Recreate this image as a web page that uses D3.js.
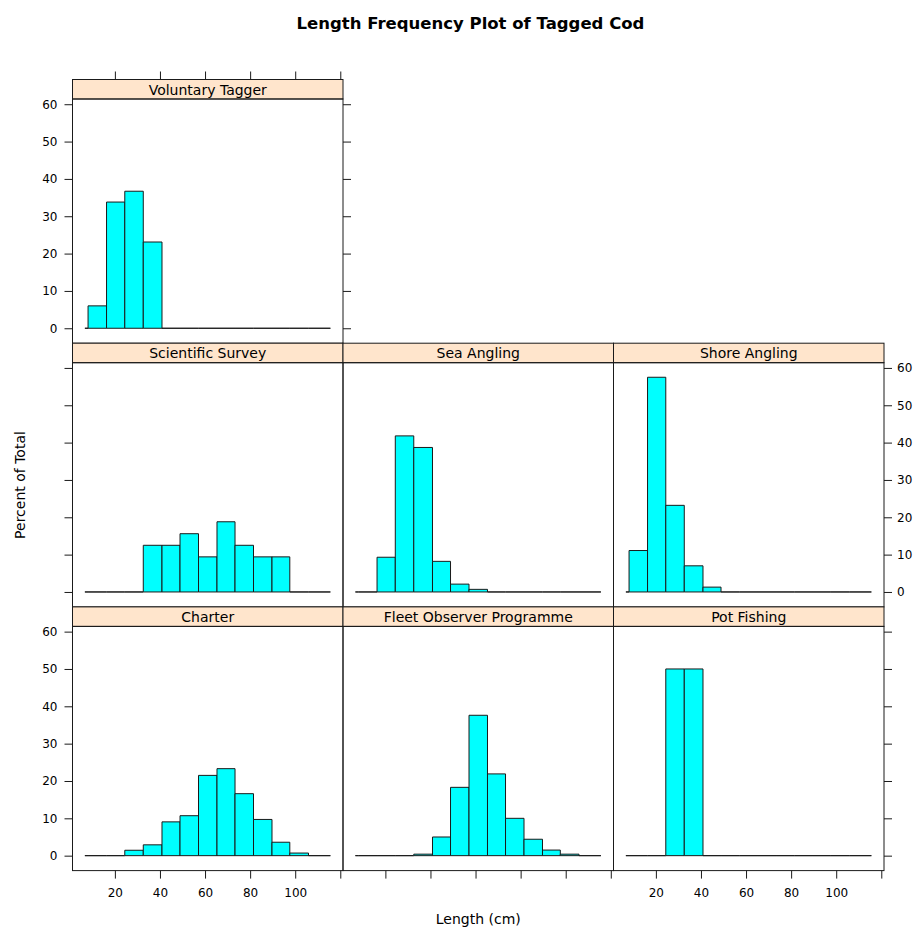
<!DOCTYPE html>
<html>
<head>
<meta charset="utf-8">
<script src="https://cdn.jsdelivr.net/npm/d3@7"></script>
<style>
  html, body { margin: 0; padding: 0; background: #fff; }
  svg { display: block; }
  text { font-family: "DejaVu Sans", sans-serif; fill: #000; }
</style>
</head>
<body>
<svg id="chart" width="916" height="929"></svg>
<script>
// ---- data ----
const title = "Length Frequency Plot of Tagged Cod";
const xLabel = "Length (cm)";
const yLabel = "Percent of Total";
// histogram bin breaks (cm); first and last bins are empty
const breaks = [6.7, 8.1, 16.3, 24.4, 32.6, 40.9, 48.9, 57.1, 65.3, 73.3, 81.5, 89.7, 97.6, 105.9, 115.6];
const panelNames = ["Voluntary Tagger", "Scientific Survey", "Sea Angling", "Shore Angling",
                    "Charter", "Fleet Observer Programme", "Pot Fishing"];
const pctVoluntary = [0, 6.0, 33.8, 36.7, 23.1, 0, 0, 0, 0, 0, 0, 0, 0, 0];
const pctScientific = [0, 0, 0, 0, 12.5, 12.5, 15.6, 9.4, 18.8, 12.5, 9.4, 9.4, 0, 0];
const pctSeaAngling = [0, 0, 9.3, 41.8, 38.7, 8.2, 2.1, 0.7, 0, 0, 0, 0, 0, 0];
const pctShoreAngling = [0, 11.1, 57.5, 23.2, 7.0, 1.3, 0, 0, 0, 0, 0, 0, 0, 0];
const pctCharter = [0, 0, 0, 1.45, 2.9, 9.05, 10.7, 21.5, 23.3, 16.6, 9.7, 3.6, 0.7, 0];
const pctFleet = [0, 0, 0, 0, 0.4, 5.0, 18.3, 37.6, 21.9, 10.0, 4.4, 1.5, 0.4, 0];
const pctPot = [0, 0, 0, 50, 50, 0, 0, 0, 0, 0, 0, 0, 0, 0];
const xTicks = [20, 40, 60, 80, 100, 120];
const xTickLabels = ["20", "40", "60", "80", "100", ""];
const yTicks = [0, 10, 20, 30, 40, 50, 60];
const xDomain = [1.2, 121.2];
const yDomain = [-4.0, 61.4];

// ---- layout ----
const svg = d3.select("#chart");
const colLeft = 72.5, colW = 270.5;
const rowTop = 79.5, rowH = 263.7, stripH = 19.5, panelH = 244.2;
const tick = 8;

const series = [pctVoluntary, pctScientific, pctSeaAngling, pctShoreAngling, pctCharter, pctFleet, pctPot];
// [row, col] placement of each panel (lattice layout, bottom-to-top filling)
const placement = [[0, 0], [1, 0], [1, 1], [1, 2], [2, 0], [2, 1], [2, 2]];

const panels = panelNames.map((name, i) => {
  const [r, c] = placement[i];
  const x0 = colLeft + c * colW;
  const sTop = rowTop + r * rowH;
  const pTop = sTop + stripH;
  const pBot = pTop + panelH;
  return { name, r, c, x0, sTop, pTop, pBot, vals: series[i] };
});

svg.append("text")
  .attr("x", 470.5).attr("y", 29)
  .attr("text-anchor", "middle")
  .style("font-size", "16.5px").style("font-weight", "bold")
  .text(title);

panels.forEach(p => {
  const x = d3.scaleLinear().domain(xDomain).range([p.x0, p.x0 + colW]);
  const y = d3.scaleLinear().domain(yDomain).range([p.pBot, p.pTop]);
  const g = svg.append("g");

  // strip
  g.append("rect")
    .attr("x", p.x0).attr("y", p.sTop).attr("width", colW).attr("height", stripH)
    .attr("fill", "#ffe5cc").attr("stroke", "#1a1a1a").attr("stroke-width", 1);
  g.append("text")
    .attr("x", p.x0 + colW / 2).attr("y", p.sTop + 15)
    .attr("text-anchor", "middle")
    .style("font-size", "14px")
    .text(p.name);

  // panel border
  g.append("rect")
    .attr("x", p.x0).attr("y", p.pTop).attr("width", colW).attr("height", panelH)
    .attr("fill", "none").attr("stroke", "#1a1a1a").attr("stroke-width", 1);

  // bars
  const bins = p.vals.map((v, i) => ({ x0: breaks[i], x1: breaks[i + 1], v }));
  g.selectAll("path.bar").data(bins).enter().append("path")
    .attr("class", "bar")
    .attr("d", d => {
      const a = x(d.x0), b = x(d.x1), y0 = y(0), y1 = y(d.v);
      return `M${a},${y0}H${b}V${y1}H${a}Z`;
    })
    .attr("fill", "#00ffff")
    .attr("stroke", "#1a1a1a")
    .attr("stroke-width", 1);

  // axes
  const fontSz = "12px";
  const styleAxis = (sel, showLabels) => {
    sel.select(".domain").remove();
    sel.selectAll(".tick line").attr("stroke", "#1a1a1a");
    sel.selectAll(".tick text").style("font-size", fontSz).style("font-family", "DejaVu Sans").attr("fill", "#000");
    if (!showLabels) sel.selectAll(".tick text").remove();
  };

  // left axis (column 0)
  if (p.c === 0) {
    const ax = d3.axisLeft(y).tickValues(yTicks).tickSize(tick).tickSizeOuter(0).tickPadding(7);
    const sel = g.append("g").attr("transform", `translate(${p.x0},0)`).call(ax);
    styleAxis(sel, p.r !== 1);
  }
  // right axis (last panel in each row)
  const lastInRow = (p.r === 0 && p.c === 0) || p.c === 2;
  if (lastInRow) {
    const ax = d3.axisRight(y).tickValues(yTicks).tickSize(tick).tickSizeOuter(0).tickPadding(5);
    const sel = g.append("g").attr("transform", `translate(${p.x0 + colW},0)`).call(ax);
    styleAxis(sel, p.r === 1);
  }
  // bottom axis (bottom row)
  if (p.r === 2) {
    const ax = d3.axisBottom(x).tickValues(xTicks).tickFormat((d, i) => xTickLabels[i])
      .tickSize(tick).tickSizeOuter(0).tickPadding(10);
    const sel = g.append("g").attr("transform", `translate(0,${p.pBot})`).call(ax);
    styleAxis(sel, p.c !== 1);
  }
  // top axis (top row)
  if (p.r === 0) {
    const ax = d3.axisTop(x).tickValues(xTicks).tickFormat(() => "").tickSize(tick).tickSizeOuter(0);
    const sel = g.append("g").attr("transform", `translate(0,${p.sTop})`).call(ax);
    styleAxis(sel, false);
  }
});

// axis titles
svg.append("text")
  .attr("x", colLeft + 1.5 * colW).attr("y", 924)
  .attr("text-anchor", "middle")
  .style("font-size", "14px")
  .text(xLabel);

svg.append("text")
  .attr("transform", `translate(25,485) rotate(-90)`)
  .attr("text-anchor", "middle")
  .style("font-size", "14px")
  .text(yLabel);
</script>
</body>
</html>
